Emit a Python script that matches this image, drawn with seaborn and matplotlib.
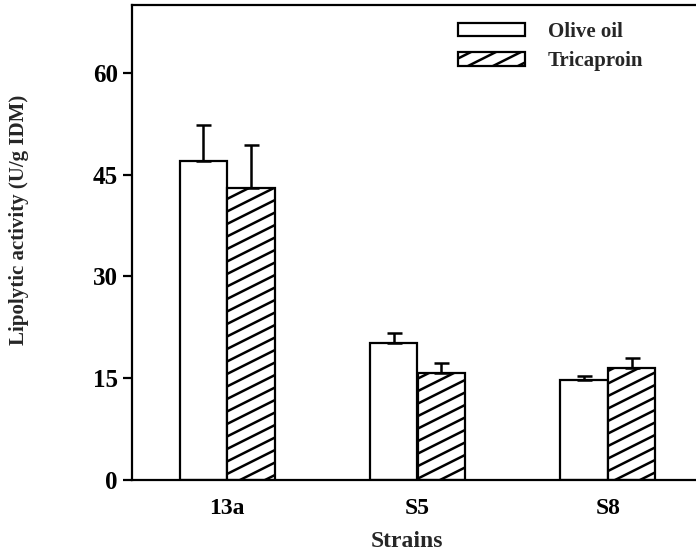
import numpy as np
import pandas as pd
import matplotlib
matplotlib.use("Agg")
import matplotlib.pyplot as plt
from matplotlib import hatch as mhatch
from matplotlib.path import Path
import seaborn as sns

# ---------------- data ----------------
strains = ["13a", "S5", "S8"]
substrates = ["Olive oil", "Tricaproin"]
olive_oil = [47.0, 20.2, 14.7]
tricaproin = [43.0, 15.8, 16.5]
olive_err = [5.3, 1.4, 0.6]
tricaproin_err = [6.4, 1.4, 1.5]
yticks = [0, 15, 30, 45, 60]


# ---------------- shallow diagonal hatch (about 27 degrees) ----------------
class ShallowHatch(mhatch.HatchPatternBase):
    N = 8  # must be even so the tile repeats seamlessly

    def __init__(self, hatch, density):
        n = hatch.count('/')
        self.ks = list(range(-self.N, self.N + 2)) if n else []
        self.num_lines = len(self.ks) * n
        self.num_vertices = self.num_lines * 2
        self.n = n

    def set_vertices_and_codes(self, vertices, codes):
        cs = np.array(self.ks * self.n, dtype=float) / self.N
        vertices[0::2, 0] = -1.0
        vertices[0::2, 1] = cs - 0.5
        vertices[1::2, 0] = 2.0
        vertices[1::2, 1] = cs + 1.0
        codes[0::2] = Path.MOVETO
        codes[1::2] = Path.LINETO


mhatch._hatch_types = [ShallowHatch if t is mhatch.NorthEastHatch else t
                       for t in mhatch._hatch_types]

df = pd.DataFrame({
    "Strain": strains * 2,
    "Substrate": [substrates[0]] * 3 + [substrates[1]] * 3,
    "Activity": olive_oil + tricaproin,
})

sns.set_style("ticks")
plt.rcParams["font.family"] = ["Liberation Serif", "DejaVu Serif"]
plt.rcParams["font.weight"] = "bold"
plt.rcParams["hatch.color"] = "black"
plt.rcParams["hatch.linewidth"] = 1.8

fig = plt.figure(figsize=(6.96, 5.53), dpi=100)
ax = fig.add_axes([132 / 696, 73 / 553, 571 / 696, 475 / 553])

sns.barplot(data=df, x="Strain", y="Activity", hue="Substrate",
            order=strains, hue_order=substrates,
            palette=["white", "white"], saturation=1, width=0.5,
            edgecolor="black", linewidth=1.6, errorbar=None, ax=ax)

for patch in ax.containers[1]:
    patch.set_hatch("/")

errs = [olive_err, tricaproin_err]
for cont, err in zip(ax.containers, errs):
    xs = [p.get_x() + p.get_width() / 2 for p in cont]
    ys = [p.get_height() for p in cont]
    ax.errorbar(xs, ys, yerr=[np.zeros(len(err)), err], fmt="none",
                ecolor="black", elinewidth=1.8, capsize=5.4, capthick=1.8,
                zorder=1)

ax.set_xlim(-0.5, 2.5)
ax.set_ylim(0, 70)
ax.set_yticks(yticks)
ax.set_yticklabels([str(v) for v in yticks])

for s in ax.spines.values():
    s.set_linewidth(1.6)
    s.set_color("black")

ax.tick_params(axis="y", direction="out", length=6.5, width=1.6, pad=3.6,
               labelsize=18, colors="black")
ax.tick_params(axis="x", length=0, pad=13, labelsize=17, colors="black")
for lab in ax.get_xticklabels() + ax.get_yticklabels():
    lab.set_fontweight("bold")

ax.set_xlabel("Strains", fontsize=17, fontweight="bold", va="baseline")
ax.xaxis.set_label_coords((407 - 132) / 571, (480 - 547) / 475)
ax.set_ylabel("Lipolytic activity (U/g IDM)", fontsize=15, fontweight="bold")
ax.yaxis.set_label_coords((29 - 132) / 571, (480 - 220) / 475)

leg = ax.get_legend()
if leg is not None:
    leg.remove()
handles = [ax.containers[0][0], ax.containers[1][0]]
fig.legend(handles, substrates, loc="upper left",
           bbox_to_anchor=(458 / 696, 1 - 22 / 553),
           frameon=False, prop={"weight": "bold", "size": 15},
           handlelength=3.2, handleheight=0.6, handletextpad=1.1,
           labelspacing=0.45, borderpad=0, borderaxespad=0)

fig.savefig("out.png", dpi=100)
